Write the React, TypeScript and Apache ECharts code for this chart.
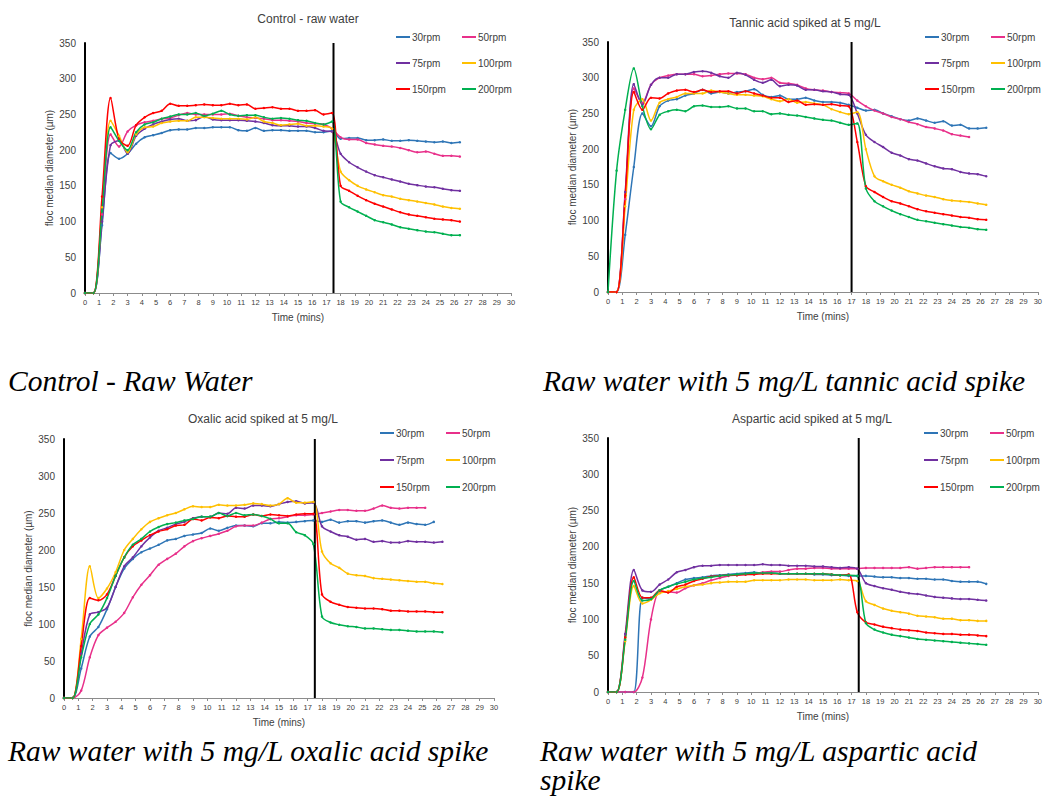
import React, { useEffect, useRef } from 'react';
import * as echarts from 'echarts';

const TIME = [0, 0.6, 1.2, 1.8, 2.4, 3, 3.6, 4.2, 4.8, 5.4, 6, 6.6, 7.2, 7.8, 8.4, 9, 9.6, 10.2, 10.8, 11.4, 12, 12.6, 13.2, 13.8, 14.4, 15, 15.6, 16.2, 16.8, 17.4, 18, 18.6, 19.2, 19.8, 20.4, 21, 21.6, 22.2, 22.8, 23.4, 24, 24.6, 25.2, 25.8, 26.4];
const RPM = ['30rpm', '50rpm', '75rpm', '100rpm', '150rpm', '200rpm'];
const COLORS = ['#2E75B6', '#E8308A', '#7030A0', '#FFC000', '#FF0000', '#00B050'];

// Control - raw water
const C30 = [0,0,95,196,188,195,209,218,221,224, 228,229,229,231,231,232,232,232,228,227, 231,227,228,228,227,227,227,225,225,227, 216,217,217,214,214,215,213,213,214,213, 212,211,212,210,211];
const C50 = [0,0,110,222,205,226,235,239,241,244, 245,249,252,250,250,250,250,251,248,246, 245,244,242,242,241,240,238,237,236,230, 218,215,215,210,208,206,205,203,200,197, 198,195,192,192,191];
const C75 = [0,0,100,207,213,195,220,230,236,240, 243,244,241,242,247,243,242,242,242,241, 240,238,235,234,234,233,233,231,227,226, 195,183,176,170,165,162,159,156,153,151, 149,148,146,144,143];
const C100 = [0,0,120,241,220,197,222,232,233,238, 240,241,241,246,246,245,244,244,244,243, 246,240,238,235,236,237,234,234,233,230, 170,158,150,145,141,137,135,132,130,128, 126,124,121,119,118];
const C150 = [0,0,135,273,215,206,235,246,252,255, 265,262,262,263,264,263,263,265,263,264, 258,259,260,258,258,255,255,256,250,252, 150,143,136,130,125,121,117,113,110,108, 106,104,103,102,100];
const C200 = [0,0,115,232,213,200,225,236,239,244, 247,250,250,252,248,251,255,250,248,249, 249,246,244,245,244,242,241,238,236,240, 128,120,114,108,102,99,96,92,90,88, 86,85,83,81,81];

// Tannic acid
const T30 = [0,0,80,175,250,232,260,268,270,275, 278,283,278,280,278,280,281,284,276,273, 275,270,270,272,268,266,266,265,262,258, 254,255,250,246,242,240,243,240,237,239, 233,234,229,229,230];
const T50 = [0,0,130,285,265,290,300,303,305,305, 305,302,303,305,306,306,305,300,298,300, 293,292,290,285,283,282,280,279,278,268, 260,254,250,245,242,238,235,231,229,226, 221,219,217];
const T75 = [0,0,140,291,262,290,300,300,305,305, 308,309,307,302,300,307,304,297,293,297, 288,290,289,283,283,281,280,277,276,250, 220,210,203,195,191,186,184,180,176,173, 172,168,166,165,162];
const T100 = [0,0,120,255,270,240,265,270,273,278, 278,278,282,280,278,276,276,275,274,270, 267,270,265,266,264,262,256,252,249,252, 200,162,155,150,146,141,138,135,133,130, 128,127,126,124,122];
const T150 = [0,0,135,280,255,272,271,278,282,283, 280,283,280,281,281,278,281,278,275,272, 272,266,268,262,263,262,263,261,260,210, 148,140,133,127,124,120,116,113,111,109, 107,105,104,102,101];
const T200 = [0,170,255,313,260,228,248,253,255,253, 260,261,259,259,260,257,257,253,253,249, 250,248,247,245,243,241,240,237,234,236, 145,127,120,114,109,105,101,99,97,95, 93,91,90,88,87];

// Oxalic acid
const O30 = [0,0,40,83,96,120,150,175,188,197, 202,207,213,215,219,221,223,229,226,230, 233,233,232,236,236,238,237,238,239,240, 238,241,237,239,239,237,239,240,237,234, 237,235,234,238];
const O50 = [0,0,10,55,85,95,103,115,136,153, 166,180,188,195,205,212,216,219,222,226, 232,233,233,237,242,243,245,247,247,248, 250,252,254,254,253,253,256,260,257,256, 257,257,257];
const O75 = [0,0,60,113,116,122,150,178,190,205, 217,226,230,235,238,243,245,245,250,249, 257,256,260,260,259,262,265,266,263,264, 232,225,220,218,214,215,211,212,210,210, 212,211,211,210,211];
const O100 = [0,0,80,178,135,148,170,200,215,228, 238,243,247,250,255,259,258,258,261,260, 260,261,263,262,260,262,270,264,264,265, 198,182,176,168,166,165,162,161,160,159, 158,157,157,155,154];
const O150 = [0,0,70,135,132,140,165,190,205,213, 220,225,228,233,234,242,240,244,243,246, 245,245,248,246,248,247,246,248,249,249, 140,130,126,123,122,121,121,120,118,118, 117,117,117,116,116];
const O200 = [0,0,55,100,113,135,165,190,207,215, 225,231,235,237,240,242,245,245,250,246, 250,247,248,246,242,236,236,224,220,208, 110,102,99,97,96,94,94,93,92,92, 91,90,90,90,89];

// Aspartic acid
const A30 = [0,0,0,0,130,128,140,145,150,155, 157,158,160,161,162,163,164,165,164,164, 163,163,163,163,162,162,161,161,160,160, 160,159,158,158,157,157,156,156,155,155, 153,152,152,152,149];
const A50 = [0,0,0,0,20,100,138,138,137,143, 147,150,154,157,160,161,162,163,165,166, 166,168,170,170,171,171,170,170,170,170, 171,171,171,171,171,172,170,171,172,172, 172,172,172];
const A75 = [0,0,80,168,140,138,148,155,165,168, 172,174,174,175,175,175,175,175,176,175, 175,174,174,174,173,173,172,171,172,170, 150,146,143,141,138,136,135,133,131,130, 129,128,128,127,126];
const A100 = [0,0,70,146,122,127,136,139,142,145, 147,148,150,151,152,152,152,154,154,154, 154,155,155,155,154,154,154,155,154,153, 125,120,115,112,110,108,105,104,103,101, 101,99,99,98,98];
const A150 = [0,0,75,158,130,130,140,137,145,148, 153,156,159,160,161,161,162,162,163,163, 163,163,163,163,163,163,162,161,162,110, 96,93,90,88,86,85,84,82,81,80, 80,79,79,78,77];
const A200 = [0,0,72,153,126,128,140,145,149,152, 155,157,158,160,161,162,163,164,164,164, 163,163,163,163,163,163,162,161,161,160, 95,86,82,79,77,75,73,72,71,70, 69,68,67,66,65];

const TITLES = ['Control - raw water', 'Tannic acid spiked at 5 mg/L', 'Oxalic acid spiked at 5 mg/L', 'Aspartic acid spiked at 5 mg/L'];
const CAPTIONS = ['Control - Raw Water', 'Raw water with 5 mg/L tannic acid spike', 'Raw water with 5 mg/L oxalic acid spike', 'Raw water with 5 mg/L aspartic acid\nspike'];
const STOP_TIMES = [17.5, 17, 17.5, 17.5];
const PANEL_DATA = [
  [C30, C50, C75, C100, C150, C200],
  [T30, T50, T75, T100, T150, T200],
  [O30, O50, O75, O100, O150, O200],
  [A30, A50, A75, A100, A150, A200],
];
const X_TICKS = { min: 0, max: 30, interval: 1 };
const Y_TICKS = { min: 0, max: 350, interval: 50 };

// layout (pixels)
const GRIDS = [
  { left: 85, top: 43, width: 426, height: 250 },
  { left: 608, top: 42, width: 431, height: 250 },
  { left: 64, top: 439, width: 430, height: 259 },
  { left: 608, top: 438, width: 430, height: 254 },
];
const TITLE_POS = [[308, 19], [805, 23], [263, 419], [812, 419]];
const LEGEND_POS = [[391, 32, 26], [920, 32, 26], [375, 428, 27], [919, 428, 27]];
const CAPTION_TOP = [[8, 366], [543, 366], [8, 736], [540, 736]];
const SANS = '"Liberation Sans", Arial, sans-serif';

export default function App() {
  const ref = useRef<HTMLDivElement>(null);
  useEffect(() => {
    if (!ref.current) return;
    const chart = echarts.init(ref.current, undefined, { renderer: 'svg' });
    const grid: any[] = [];
    const xAxis: any[] = [];
    const yAxis: any[] = [];
    const series: any[] = [];
    const legend: any[] = [];
    const graphic: any[] = [];

    PANEL_DATA.forEach((panel, p) => {
      grid.push({ ...GRIDS[p], containLabel: false });
      xAxis.push({
        type: 'value', gridIndex: p, ...X_TICKS,
        name: 'Time (mins)', nameLocation: 'middle', nameGap: 19,
        nameTextStyle: { fontSize: 10, color: '#404040', fontFamily: SANS },
        axisLine: { show: true, lineStyle: { color: '#8c8c8c', width: 1 } },
        axisTick: { show: true, length: 3, lineStyle: { color: '#8c8c8c' } },
        axisLabel: { fontSize: 7.5, color: '#404040', margin: 5, fontFamily: SANS },
        splitLine: { show: false },
      });
      yAxis.push({
        type: 'value', gridIndex: p, ...Y_TICKS,
        name: 'floc median diameter (µm)', nameLocation: 'middle', nameGap: 31,
        nameTextStyle: { fontSize: 10, color: '#404040', fontFamily: SANS },
        axisLine: { show: true, lineStyle: { color: '#000', width: 2 } },
        axisTick: { show: false },
        axisLabel: { fontSize: 10, color: '#404040', margin: 9, fontFamily: SANS },
        splitLine: { show: false },
      });
      panel.forEach((vals, i) => {
        series.push({
          type: 'line', name: RPM[i], xAxisIndex: p, yAxisIndex: p,
          data: vals.map((v, k) => [TIME[k], v]),
          smooth: 0.3, symbol: 'circle', symbolSize: 2.5, showSymbol: true,
          color: COLORS[i], lineStyle: { width: 1.5, color: COLORS[i] },
          itemStyle: { color: COLORS[i] },
        });
      });
      series.push({
        type: 'line', name: 'stop', xAxisIndex: p, yAxisIndex: p,
        data: [[STOP_TIMES[p], Y_TICKS.min], [STOP_TIMES[p], Y_TICKS.max]],
        symbol: 'none', lineStyle: { color: '#000', width: 2 }, silent: true, z: 3,
      });
      const [lx, ly, pitch] = LEGEND_POS[p];
      const cols = [[RPM[0], RPM[2], RPM[4]], [RPM[1], RPM[3], RPM[5]]];
      cols.forEach((data, c) => {
        legend.push({
          data, orient: 'vertical', left: lx + c * 66, top: ly - 5,
          icon: 'rect', itemWidth: 14, itemHeight: 2, itemGap: pitch - 10, selectedMode: false,
          textStyle: { fontSize: 10, color: '#404040', fontFamily: SANS, lineHeight: 10, padding: [0, 0, 0, -3] },
        });
      });
      graphic.push({
        type: 'text', x: TITLE_POS[p][0], y: TITLE_POS[p][1],
        style: { text: TITLES[p], align: 'center', verticalAlign: 'middle', font: `12px ${SANS}`, fill: '#404040' },
      });
      graphic.push({
        type: 'text', x: CAPTION_TOP[p][0], y: CAPTION_TOP[p][1],
        style: { text: CAPTIONS[p], align: 'left', verticalAlign: 'top', font: `italic 29.5px "Liberation Serif", "Times New Roman", serif`, lineHeight: 29, fill: '#000' },
      });
    });

    chart.setOption({
      animation: false,
      backgroundColor: '#fff',
      grid, xAxis, yAxis, series, legend, graphic,
    });
    return () => chart.dispose();
  }, []);
  return <div ref={ref} style={{ position: 'absolute', left: 0, top: 0, width: 1045, height: 798 }} />;
}
